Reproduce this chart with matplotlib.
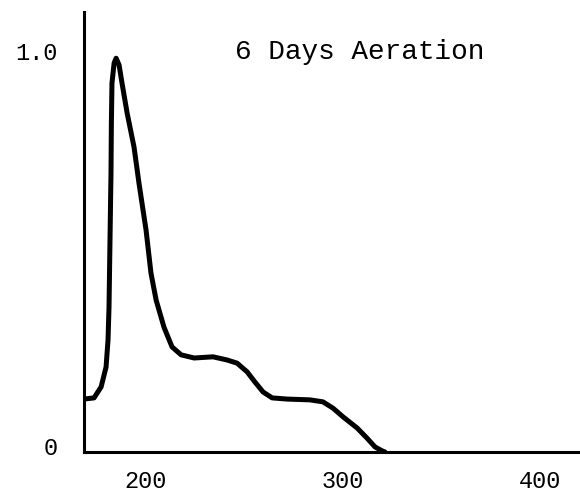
import matplotlib
matplotlib.use("Agg")
from matplotlib import pyplot as plt
from matplotlib.transforms import ScaledTranslation

# wavelength (nm) and relative absorbance
wavelength = [168.5, 173.6, 177.2, 179.7, 180.7, 181.2, 181.7, 182.2, 182.4, 182.7,
              183.8, 184.8, 186.3, 187.8, 190.4, 193.9, 196.4, 200.0, 202.5, 205.1,
              209.1, 213.2, 217.8, 224.4, 234.0, 241.1, 246.2, 251.3, 255.3, 259.4,
              264.0, 271.6, 283.2, 289.8, 294.9, 300.0, 307.1, 312.2, 316.2, 319.8, 321.3]
absorbance = [0.134, 0.137, 0.165, 0.215, 0.284, 0.367, 0.537, 0.706, 0.833, 0.934,
              0.985, 0.997, 0.980, 0.934, 0.858, 0.772, 0.681, 0.562, 0.453, 0.385,
              0.316, 0.266, 0.246, 0.238, 0.241, 0.233, 0.225, 0.203, 0.177, 0.152,
              0.137, 0.134, 0.132, 0.127, 0.111, 0.089, 0.061, 0.035, 0.013, 0.003, 0.0]

xticks = [200, 300, 400]
yticks = [0, 1.0]
ytick_labels = ['0', '1.0']
title = '6 Days Aeration'

plt.rcParams['font.family'] = ['Liberation Mono', 'DejaVu Sans Mono']

fig = plt.figure(figsize=(5.8, 4.93), dpi=100)
ax = fig.add_axes([84/580, 41/493, 496/580, 440/493])

ax.plot(wavelength, absorbance, color='black', lw=3.6,
        solid_joinstyle='round', solid_capstyle='round')

ax.set_xlim(168.5, 420.3)
ax.set_ylim(0, 1.114)

for s in ['top', 'right']:
    ax.spines[s].set_visible(False)
for s in ['left', 'bottom']:
    ax.spines[s].set_linewidth(2.2)

ax.set_xticks(xticks)
ax.set_xticklabels([str(t) for t in xticks])
ax.set_yticks(yticks)
ax.set_yticklabels(ytick_labels)
ax.tick_params(axis='x', length=0, pad=13, labelsize=17)
ax.tick_params(axis='y', length=0, pad=19, labelsize=17)

# labels on the original sit a bit above their value
off = ScaledTranslation(0, 6/100, fig.dpi_scale_trans)
for lab in ax.get_yticklabels():
    lab.set_transform(lab.get_transform() + off)

ax.text(245.2, 1.013, title, fontsize=20, ha='left', va='center')

fig.savefig('out.png', dpi=100)
